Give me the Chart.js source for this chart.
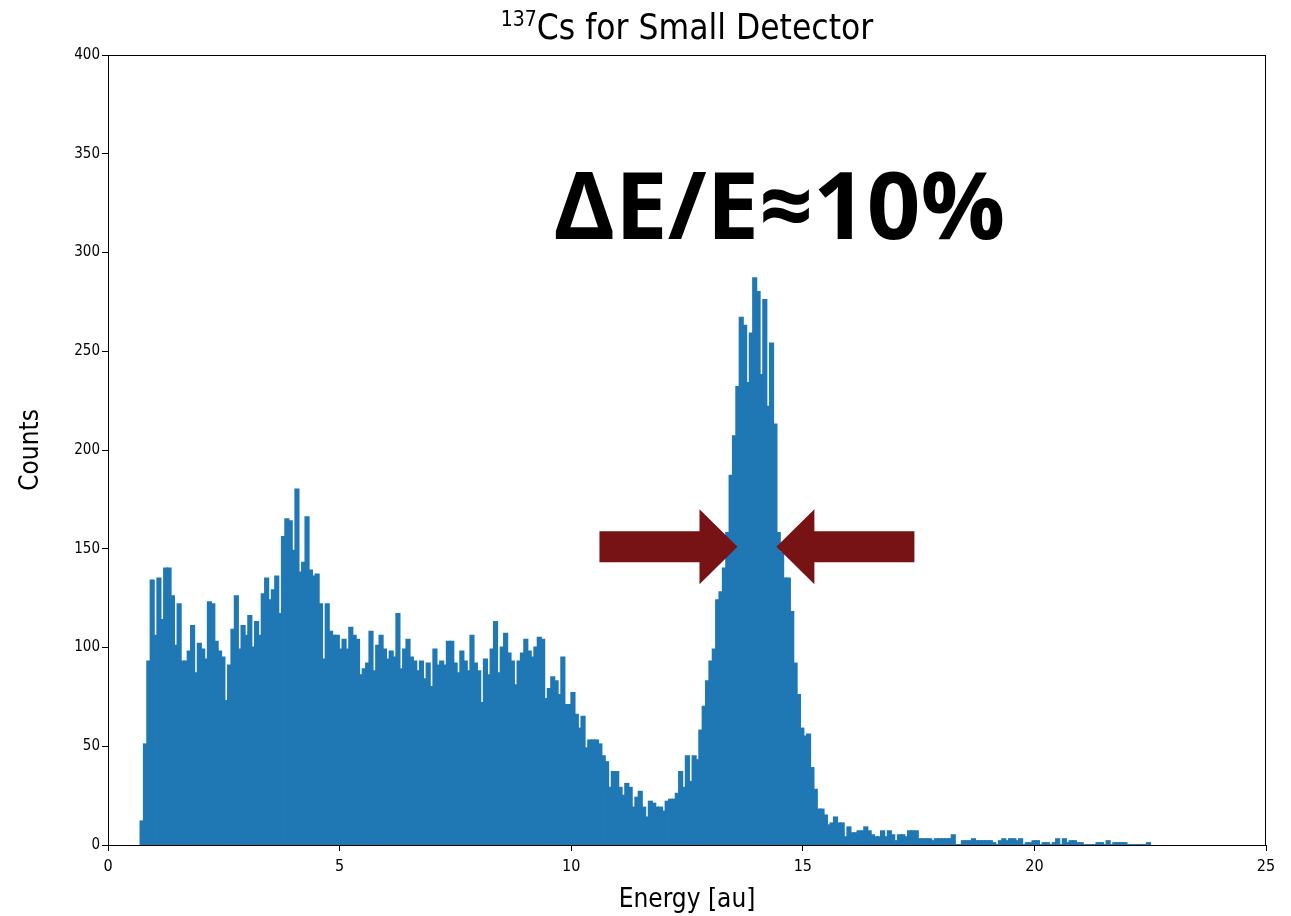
<!DOCTYPE html>
<html><head><meta charset="utf-8">
<script src="https://cdn.jsdelivr.net/npm/chart.js@4/dist/chart.umd.min.js"></script>
<style>html,body{margin:0;padding:0;background:#fff;}#wrap{width:1291px;height:916px;}</style>
</head><body><div id="wrap"><canvas id="c" width="1291" height="916"></canvas></div>
<script>
// ---- text ----
const titleIsotope = '137';
const titleMain = 'Cs for Small Detector';
const xAxisLabel = 'Energy [au]';
const yAxisLabel = 'Counts';
const resolutionText = 'ΔE/E≈10%';

// ---- ticks ----
const xTickValues = [0, 5, 10, 15, 20, 25];
const yTickValues = [0, 50, 100, 150, 200, 250, 300, 350, 400];

// ---- histogram binning (300 equal bins) ----
const binStart = 0.70;
const binEnd = 22.50;

// ---- counts per bin ----
const comptonLowCounts = [
  12, 51, 93, 134, 106, 135, 114, 140, 140, 126,
  101, 122, 93, 93, 98, 111, 87, 102, 99, 94,
  123, 122, 103, 98, 95, 73, 91, 109, 126, 99,
  111, 106, 116, 100, 113, 106, 127, 135, 124, 129,
  136, 117, 156, 165, 164, 149, 180, 138, 143, 166,
  139, 136, 137, 122, 94, 122, 108, 106, 106, 99,
  104, 99
];
const comptonHighCounts = [
  110, 106, 104, 86, 89, 92, 108, 88, 101, 106,
  99, 94, 98, 95, 117, 89, 99, 104, 95, 93,
  88, 93, 84, 92, 80, 99, 91, 93, 91, 103,
  103, 92, 87, 98, 93, 88, 106, 92, 88, 72,
  94, 86, 99, 113, 87, 100, 107, 97, 93, 81,
  93, 97, 104, 98, 95, 100, 105, 104, 74, 79,
  85, 83, 76, 95, 71, 71, 77, 66, 59
];
const valleyPeakCounts = [
  65, 49, 53, 53, 53, 51, 45, 42, 29, 37,
  37, 29, 25, 31, 29, 19, 24, 27, 19, 14,
  22, 21, 19, 19, 17, 22, 23, 23, 26, 37,
  29, 45, 32, 45, 43, 58, 70, 83, 93, 99,
  124, 128, 140, 158, 187, 207, 232, 267, 263, 234,
  259, 287, 280, 238, 276, 222, 254, 213
];
const tailCounts = [
  158, 148, 135, 135, 118, 92, 76, 59, 55, 56,
  39, 28, 18, 18, 15, 10, 11, 14, 11, 11,
  4, 9, 6, 6, 7, 7, 9, 7, 5, 4,
  4, 7, 4, 7, 5, 2, 5, 5, 4, 7,
  7, 7, 3, 3, 3, 3, 2, 3, 3, 3,
  3, 3, 5, 0, 0, 2, 2, 2, 3, 2,
  2, 2, 2, 2, 1, 0, 2, 3, 2, 3,
  3, 2, 3, 0, 1, 1, 2, 2, 0, 1,
  1, 0, 1, 3, 0, 3, 1, 2, 2, 1,
  1, 0, 0, 0, 0, 1, 1, 0, 2, 0,
  1, 1, 1, 1, 0, 0, 0, 0, 0, 0,
  1
];

// ---- annotation anchors (data units) ----
const arrowLevel = 151;
const leftArrowFrom = 10.61, leftArrowTip = 13.59;
const rightArrowFrom = 17.41, rightArrowTip = 14.43;
const labelCenterX = 14.49, labelBaseY = 307;

const counts = [].concat(comptonLowCounts, comptonHighCounts, valleyPeakCounts, tailCounts);
const binWidth = (binEnd - binStart) / counts.length;
const points = counts.map((c, i) => ({ x: binStart + (i + 0.5) * binWidth, y: c }));

const BAR = '#1f77b4';
const ARROW = 'rgb(120,19,21)';
const FONT = '"DejaVu Sans Condensed", "DejaVu Sans", sans-serif';

function drawArrow(ctx, x0, x1, yc) {
  const dir = Math.sign(x1 - x0);
  const headLen = 38, headHalf = 37.5, shaftHalf = 15.5;
  const xb = x1 - dir * headLen;
  ctx.beginPath();
  ctx.moveTo(x0, yc - shaftHalf);
  ctx.lineTo(xb, yc - shaftHalf);
  ctx.lineTo(xb, yc - headHalf);
  ctx.lineTo(x1, yc);
  ctx.lineTo(xb, yc + headHalf);
  ctx.lineTo(xb, yc + shaftHalf);
  ctx.lineTo(x0, yc + shaftHalf);
  ctx.closePath();
  ctx.fill();
}

const decor = {
  id: 'decor',
  afterDatasetsDraw(chart) {
    const { ctx, chartArea: a, scales: { x, y } } = chart;
    ctx.save();
    // frame (all four spines)
    ctx.strokeStyle = '#000';
    ctx.lineWidth = 1;
    ctx.strokeRect(Math.round(a.left) + 0.5, Math.round(a.top) + 0.5,
                   Math.round(a.right - a.left) - 1, Math.round(a.bottom - a.top));
    // arrows
    ctx.fillStyle = ARROW;
    const yc = y.getPixelForValue(arrowLevel);
    drawArrow(ctx, x.getPixelForValue(leftArrowFrom), x.getPixelForValue(leftArrowTip), yc);
    drawArrow(ctx, x.getPixelForValue(rightArrowFrom), x.getPixelForValue(rightArrowTip), yc);
    // big label
    ctx.fillStyle = '#000';
    ctx.font = 'bold 94px "Open Sans", "Noto Sans", sans-serif';
    ctx.textAlign = 'center';
    ctx.textBaseline = 'alphabetic';
    ctx.fillText(resolutionText, x.getPixelForValue(labelCenterX), y.getPixelForValue(labelBaseY));
    // title with superscript
    const mainFont = '35px ' + FONT, supFont = '21px ' + FONT;
    ctx.font = mainFont; const wMain = ctx.measureText(titleMain).width;
    ctx.font = supFont; const wSup = ctx.measureText(titleIsotope).width;
    const cx = (a.left + a.right) / 2;
    const x0 = cx - (wMain + wSup) / 2;
    const base = 39;
    ctx.textAlign = 'left';
    ctx.fillStyle = '#000';
    ctx.fillText(titleIsotope, x0, base - 13);
    ctx.font = mainFont;
    ctx.fillText(titleMain, x0 + wSup, base);
    ctx.restore();
  }
};

new Chart(document.getElementById('c'), {
  type: 'bar',
  data: { datasets: [{ data: points, backgroundColor: BAR, borderColor: BAR, borderWidth: 0,
    inflateAmount: 0.9, barPercentage: 1, categoryPercentage: 1, grouped: false }] },
  options: {
    responsive: false, animation: false, devicePixelRatio: 1,
    layout: { padding: { left: 0, right: 25, top: 55, bottom: 0 } },
    plugins: { legend: { display: false }, tooltip: { enabled: false } },
    scales: {
      x: {
        type: 'linear', min: 0, max: 25, offset: false,
        afterBuildTicks: s => { s.ticks = xTickValues.map(v => ({ value: v })); },
        afterFit: s => { s.height = 71; },
        grid: { drawOnChartArea: false, offset: false, color: '#000', tickLength: 6, tickWidth: 1 },
        border: { display: true, color: '#000', width: 1 },
        ticks: { color: '#000', font: { family: FONT, size: 16 }, padding: 6, maxRotation: 0, autoSkip: false },
        title: { display: true, text: xAxisLabel, color: '#000', font: { family: FONT, size: 26 }, padding: { top: 0, bottom: 0 } }
      },
      y: {
        min: 0, max: 400,
        afterBuildTicks: s => { s.ticks = yTickValues.map(v => ({ value: v })); },
        afterFit: s => { s.width = 108; },
        grid: { drawOnChartArea: false, color: '#000', tickLength: 6, tickWidth: 1 },
        border: { display: true, color: '#000', width: 1 },
        ticks: { color: '#000', font: { family: FONT, size: 15 }, padding: 2, autoSkip: false },
        title: { display: true, text: yAxisLabel, color: '#000', font: { family: FONT, size: 26 }, padding: { top: 16, bottom: 0 } }
      }
    }
  },
  plugins: [decor]
});
</script></body></html>
